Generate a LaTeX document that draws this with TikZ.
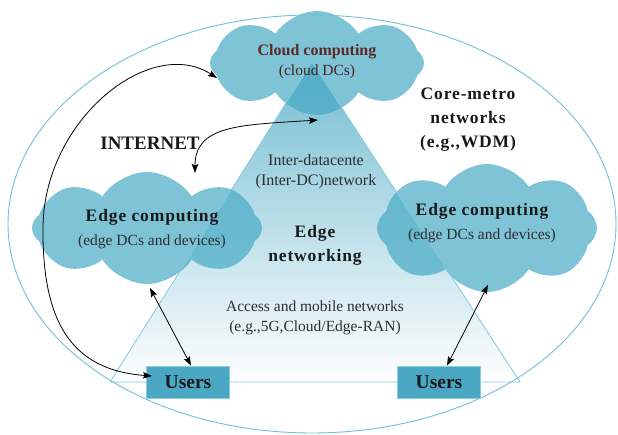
\documentclass[tikz,border=0pt]{standalone}
\usepackage{fontspec}
\setmainfont{Liberation Serif}
\newfontfamily\widefont{Liberation Serif}[LetterSpace=5]
\usetikzlibrary{shapes.symbols,fadings,arrows.meta}

\definecolor{cloudblue}{RGB}{126,196,214}
\definecolor{trifill}{RGB}{70,168,196}
\definecolor{rimblue}{RGB}{112,192,214}
\definecolor{edgeline}{RGB}{130,202,220}
\definecolor{userblue}{RGB}{74,168,196}
\definecolor{userrim}{RGB}{140,206,224}
\definecolor{cloudtext}{RGB}{92,42,38}
\definecolor{inktext}{RGB}{25,25,25}
\definecolor{softtext}{RGB}{45,45,45}

\tikzfading[name=trianglefade, top color=transparent!0, middle color=transparent!15, bottom color=transparent!100]

\tikzset{
  puffy/.style={cloud, cloud puffs=8, cloud puff arc=115, cloud ignores aspect,
    fill=cloudblue, draw=none, inner sep=0pt},
  userbox/.style={rectangle, fill=userblue, draw=userrim, line width=0.8pt,
    minimum width=83pt, minimum height=32pt, inner sep=0pt,
    font=\fontsize{19.5}{22}\selectfont\bfseries, text=inktext},
  boldlbl/.style={align=center, inner sep=0pt, text=inktext,
    font=\widefont\fontsize{17.5}{24}\selectfont\bfseries},
  plainlbl/.style={align=center, inner sep=0pt, text=softtext,
    font=\fontsize{15.5}{20}\selectfont},
  link/.style={draw=black, line width=0.8pt,
    {Stealth[length=9pt,width=6.5pt,inset=1.5pt]}-{Stealth[length=9pt,width=6.5pt,inset=1.5pt]}}
}

\begin{document}
\begin{tikzpicture}[x=1pt,y=-1pt]
  % canvas
  \fill[white] (0,0) rectangle (618,435);
  \useasboundingbox (0,0) rectangle (618,435);

  % computing clouds
  \node[puffy, minimum width=214pt, minimum height=104pt] (cloudtop) at (317,63) {};
  \node[puffy, minimum width=230pt, minimum height=112pt] (edgeL) at (147,228) {};
  \node[puffy, minimum width=220pt, minimum height=128pt, shape border rotate=20] (edgeR) at (487,228) {};

  % edge networking triangle, fading towards its base
  \coordinate (apex) at (312,62);
  \coordinate (baseL) at (110,382);
  \coordinate (baseR) at (520,382);
  \fill[trifill, fill opacity=0.75, path fading=trianglefade]
    (apex) -- (baseL) -- (baseR) -- cycle;
  \draw[edgeline, line width=0.8pt] (apex) -- (baseL) -- (baseR) -- cycle;

  % core-metro ring
  \draw[rimblue, line width=0.9pt] (312,224) ellipse [x radius=304pt, y radius=209pt];

  % users
  \node[userbox] (usrL) at (188,382) {Users};
  \node[userbox] (usrR) at (439,382) {Users};

  % connector end points on the clouds
  \coordinate (cloudIn) at (217,78);
  \coordinate (cloudLow) at (318,120);
  \coordinate (edgeLtop) at (195,173);
  \coordinate (edgeLlow) at (150,288);
  \coordinate (edgeRlow) at (488,285);
  \coordinate (usrLin) at (152,376);

  % connectors
  \draw[link] (usrLin) .. controls (70,370) and (42,320) .. (43,227)
                       .. controls (44,120) and (150,35) .. (cloudIn);
  \draw[link] (edgeLtop) .. controls (195,125) and (240,125) .. (cloudLow);
  \draw[link] (edgeLlow) -- ([xshift=3pt]usrL.north);
  \draw[link] (edgeRlow) -- ([xshift=8pt]usrR.north);

  % labels
  \node[inner sep=0pt, text=cloudtext, font=\fontsize{16}{20}\selectfont\bfseries]
    (lblcloud) at (317,52) {Cloud computing};
  \node[inner sep=0pt, text=cloudtext!80!black, font=\fontsize{15.5}{20}\selectfont]
    (lbldcs) at (317,72) {(cloud DCs)};

  \node[boldlbl] (lblcore) at (468,120) {Core-metro\\networks\\(e.g.,WDM)};
  \node[inner sep=0pt, text=inktext, font=\fontsize{19}{22}\selectfont\bfseries]
    (lblnet) at (150,143) {INTERNET};

  \node[plainlbl, font=\fontsize{16}{20}\selectfont] (lblinter) at (316,172)
    {Inter-datacente\\(Inter-DC)network};
  \node[boldlbl] (lbledge) at (315,245) {Edge\\networking};
  \node[plainlbl] (lblaccess) at (315,318)
    {Access and mobile networks\\(e.g.,5G,Cloud/Edge-RAN)};

  \node[boldlbl] (lblL) at (152,217) {Edge computing};
  \node[plainlbl] (lblLsub) at (152,242) {(edge DCs and devices)};
  \node[boldlbl] (lblR) at (482,211) {Edge computing};
  \node[plainlbl] (lblRsub) at (482,236) {(edge DCs and devices)};
\end{tikzpicture}
\end{document}
